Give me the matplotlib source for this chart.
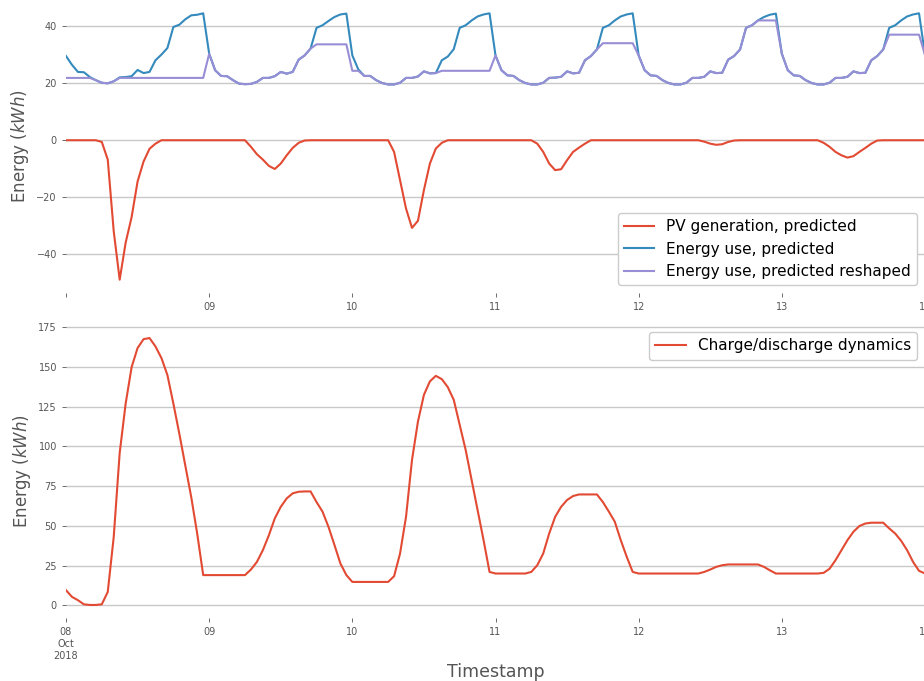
import numpy as np
import pandas as pd
import matplotlib
matplotlib.use("Agg")
import matplotlib.pyplot as plt

# ---------------- data (hourly, 2018-10-08 00:00 .. 2018-10-14 00:00) ----------------
timestamps = pd.date_range("2018-10-08 00:00", "2018-10-14 00:00", freq="h")

pv_generation = [
    # day 08
    0, 0, 0, 0, 0, 0, -0.6, -6.8, -32, -49, -36, -27, -14.5, -7.5, -3, -1.2, 0, 0, 0, 0, 0, 0, 0, 0,
    # day 09
    0, 0, 0, 0, 0, 0, 0, -2.3, -4.9, -6.8, -9.0, -10.1, -8.2, -5.3, -2.7, -0.9, -0.1, 0, 0, 0, 0, 0, 0, 0,
    # day 10
    0, 0, 0, 0, 0, 0, 0, -4.1, -14, -24, -30.8, -28.3, -17.5, -8.2, -2.9, -0.9, 0, 0, 0, 0, 0, 0, 0, 0,
    # day 11
    0, 0, 0, 0, 0, 0, 0, -1.2, -4.1, -8.2, -10.5, -10.2, -7.0, -4.1, -2.6, -1.2, 0, 0, 0, 0, 0, 0, 0, 0,
    # day 12
    0, 0, 0, 0, 0, 0, 0, 0, 0, 0, 0, -0.5, -1.2, -1.6, -1.4, -0.6, -0.1, 0, 0, 0, 0, 0, 0, 0,
    # day 13
    0, 0, 0, 0, 0, 0, 0, -0.9, -2.3, -4.1, -5.3, -6.1, -5.6, -4.1, -2.7, -1.2, -0.1, 0, 0, 0, 0, 0, 0, 0,
    # day 14
    0,
]

energy_use = [
    29.6, 26.5, 24.0, 23.9, 22.2, 21.1, 20.2, 20.0, 20.7, 22.1, 22.2, 22.5, 24.7, 23.6, 24.0, 28.1, 30.1, 32.4, 39.8, 40.6, 42.5, 43.9, 44.1, 44.6,
    30.4, 24.6, 22.6, 22.5, 21.1, 19.9, 19.7, 19.8, 20.5, 21.9, 21.9, 22.5, 24.0, 23.4, 24.0, 28.3, 29.8, 32.2, 39.5, 40.4, 41.9, 43.3, 44.2, 44.5,
    29.8, 24.9, 22.6, 22.6, 21.1, 20.1, 19.6, 19.6, 20.2, 21.9, 21.9, 22.4, 24.2, 23.5, 23.6, 28.1, 29.4, 32.0, 39.5, 40.4, 42.1, 43.5, 44.2, 44.6,
    29.8, 24.6, 22.8, 22.6, 21.1, 20.1, 19.6, 19.6, 20.2, 21.9, 22.0, 22.3, 24.2, 23.5, 23.7, 28.1, 29.6, 31.9, 39.5, 40.4, 42.1, 43.5, 44.2, 44.6,
    29.8, 24.6, 22.8, 22.6, 21.1, 20.1, 19.6, 19.6, 20.2, 21.9, 21.9, 22.3, 24.2, 23.6, 23.7, 28.3, 29.6, 31.9, 39.5, 40.4, 42.1, 43.3, 44.1, 44.5,
    30.4, 24.6, 22.8, 22.6, 21.1, 20.1, 19.6, 19.6, 20.2, 21.9, 21.9, 22.3, 24.2, 23.6, 23.7, 28.1, 29.6, 31.9, 39.5, 40.4, 42.1, 43.5, 44.2, 44.6,
    30.0,
]

energy_reshaped = [
    21.9, 21.9, 21.9, 21.9, 21.9, 21.1, 20.2, 20.0, 20.7, 21.9, 21.9, 21.9, 21.9, 21.9, 21.9, 21.9, 21.9, 21.9, 21.9, 21.9, 21.9, 21.9, 21.9, 21.9,
    30.4, 24.6, 22.6, 22.5, 21.1, 19.9, 19.7, 19.8, 20.5, 21.9, 21.9, 22.5, 24.0, 23.4, 24.0, 28.3, 29.8, 32.2, 33.7, 33.7, 33.7, 33.7, 33.7, 33.7,
    24.4, 24.4, 22.6, 22.6, 21.1, 20.1, 19.6, 19.6, 20.2, 21.9, 21.9, 22.4, 24.2, 23.5, 23.6, 24.4, 24.4, 24.4, 24.4, 24.4, 24.4, 24.4, 24.4, 24.4,
    29.8, 24.6, 22.8, 22.6, 21.1, 20.1, 19.6, 19.6, 20.2, 21.9, 22.0, 22.3, 24.2, 23.5, 23.7, 28.1, 29.6, 31.9, 34.1, 34.1, 34.1, 34.1, 34.1, 34.1,
    29.8, 24.6, 22.8, 22.6, 21.1, 20.1, 19.6, 19.6, 20.2, 21.9, 21.9, 22.3, 24.2, 23.6, 23.7, 28.3, 29.6, 31.9, 39.5, 40.4, 42.1, 42.1, 42.1, 42.1,
    30.4, 24.6, 22.8, 22.6, 21.1, 20.1, 19.6, 19.6, 20.2, 21.9, 21.9, 22.3, 24.2, 23.6, 23.7, 28.1, 29.6, 31.9, 37.1, 37.1, 37.1, 37.1, 37.1, 37.1,
    30.0,
]

charge_dynamics = [
    9.5, 5.3, 3.2, 0.6, 0.2, 0.2, 0.6, 8.4, 43, 96, 127, 150, 162, 167.6, 168.3, 163, 155.7, 145, 127, 108, 88, 68, 45, 19,
    19, 19, 19, 19, 19, 19, 19, 22.5, 27.3, 34.7, 44, 54.7, 62, 67.3, 70.5, 71.5, 71.7, 71.7, 65, 59, 49.4, 38, 26.3, 19,
    14.7, 14.7, 14.7, 14.7, 14.7, 14.7, 14.7, 18.3, 32.6, 55.7, 91.5, 115.7, 132.5, 141, 144.5, 142.4, 137.4, 129.4, 113.6, 97.8, 78.9, 60, 41, 21,
    20, 20, 20, 20, 20, 20, 21, 25.2, 32.6, 45.2, 55.7, 62, 66.3, 68.8, 69.8, 69.8, 69.8, 69.8, 65, 59, 52.6, 41, 30.5, 21,
    20, 20, 20, 20, 20, 20, 20, 20, 20, 20, 20, 21, 22.5, 24.2, 25.2, 25.7, 25.7, 25.7, 25.7, 25.7, 25.7, 24.2, 22, 20,
    20, 20, 20, 20, 20, 20, 20, 20.4, 23, 28.4, 34.7, 41, 46.3, 49.9, 51.5, 52, 52, 52, 48.4, 45.2, 40.6, 34.7, 27.3, 21.7,
    20,
]

day_ticks = pd.date_range("2018-10-08", "2018-10-14", freq="D")
top_tick_labels = ["", "09", "10", "11", "12", "13", "14"]
bottom_tick_labels = ["08\nOct\n2018", "09", "10", "11", "12", "13", "14"]

top_labels = ["PV generation, predicted", "Energy use, predicted", "Energy use, predicted reshaped"]
bottom_label = "Charge/discharge dynamics"

# ---------------- style ----------------
RED, BLUE, PURPLE = "#E24A33", "#348ABD", "#988ED5"
GREY_TXT = "#555555"
GRID = "#c8c8c8"

W, H = 924, 681
fig = plt.figure(figsize=(W / 100, H / 100), dpi=100)
left_px, right_px = 66, 925
ax1 = fig.add_axes([left_px / W, 1 - 293 / H, (right_px - left_px) / W, 293 / H])
ax2 = fig.add_axes([left_px / W, 1 - 618.3 / H, (right_px - left_px) / W, (618.3 - 324.7) / H])

ax1.plot(timestamps, pv_generation, color=RED, lw=1.5, label=top_labels[0])
ax1.plot(timestamps, energy_use, color=BLUE, lw=1.5, label=top_labels[1])
ax1.plot(timestamps, energy_reshaped, color=PURPLE, lw=1.5, label=top_labels[2])

ax2.plot(timestamps, charge_dynamics, color=RED, lw=1.5, label=bottom_label)

for ax, labels in ((ax1, top_tick_labels), (ax2, bottom_tick_labels)):
    ax.set_facecolor("white")
    for s in ax.spines.values():
        s.set_visible(False)
    ax.set_xlim(timestamps[0], timestamps[-1])
    ax.set_xticks(day_ticks)
    ax.set_xticklabels(labels)
    ax.minorticks_off()
    ax.yaxis.grid(True, color=GRID, lw=1.0)
    ax.xaxis.grid(False)
    ax.set_axisbelow(True)
    ax.tick_params(axis="both", colors=GREY_TXT, labelsize=7, length=3, width=0.6)
    ax.set_ylabel("Energy ($kWh$)", fontsize=12, color=GREY_TXT)

ax2.set_xlabel("Timestamp", fontsize=12.5, color=GREY_TXT, labelpad=1.5)

ax1.legend(loc="lower right", fontsize=11, framealpha=1)
ax2.legend(loc="upper right", fontsize=11, framealpha=1)

fig.savefig("out.png", dpi=100)
